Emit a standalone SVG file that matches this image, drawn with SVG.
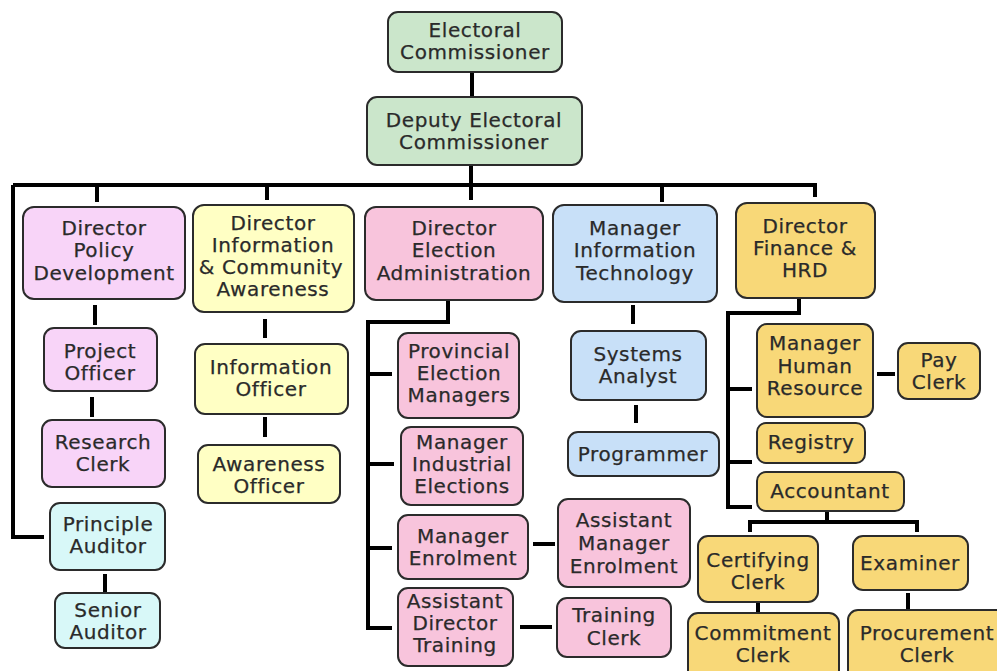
<svg xmlns="http://www.w3.org/2000/svg" width="997" height="671" viewBox="0 0 997 671">
<style>
.b{stroke:#2b2b2b;stroke-width:2}
.g{fill:#cbe6cb}.pl{fill:#f8d4f8}.yl{fill:#ffffc4}.pk{fill:#f8c4dc}.bl{fill:#c8e0f8}.gd{fill:#f8d878}.cy{fill:#d8f8f8}
text{font-family:"DejaVu Sans","Liberation Sans",sans-serif;font-size:20px;letter-spacing:0.6px;fill:#2a2a2a;stroke:#2a2a2a;stroke-width:0.25;text-anchor:middle}
.c{fill:none;stroke:#000;stroke-width:4}
</style>
<rect width="997" height="671" fill="#fff"/>
<g id="connectors" class="c">
<path d="M472 72V97"/>
<path d="M471 165V185"/>
<path d="M13 185H815V197"/>
<path d="M13 185V537H44"/>
<path d="M97 185V202"/>
<path d="M267 185V200"/>
<path d="M471 185V200"/>
<path d="M662 185V202"/>
<path d="M95 305V325"/>
<path d="M92 397V417"/>
<path d="M105 574V593"/>
<path d="M265 319V338"/>
<path d="M265 417V437"/>
<path d="M448 300V322H368V628H392"/>
<path d="M368 374H392"/>
<path d="M368 464H394"/>
<path d="M368 548H392"/>
<path d="M533 544H555"/>
<path d="M520 627H552"/>
<path d="M633 305V324"/>
<path d="M636 405V423"/>
<path d="M799 298V313H728V507H752"/>
<path d="M728 389H752"/>
<path d="M728 462H752"/>
<path d="M877 374H895"/>
<path d="M827 511V522"/>
<path d="M750 532V522H917V532"/>
<path d="M758 602V615"/>
<path d="M908 593V610"/>
</g>
<g id="ec"><rect class="b g" x="388" y="12" width="174" height="60" rx="10"/><text x="475" y="37">Electoral</text><text x="475" y="59">Commissioner</text></g>
<g id="dec"><rect class="b g" x="367" y="97" width="215" height="68" rx="10"/><text x="474" y="127">Deputy Electoral</text><text x="474" y="149">Commissioner</text></g>
<g id="dpd"><rect class="b pl" x="23" y="207" width="162" height="92" rx="11"/><text x="104" y="235">Director</text><text x="104" y="257">Policy</text><text x="104" y="280">Development</text></g>
<g id="dica"><rect class="b yl" x="193" y="205" width="161" height="107" rx="11"/><text x="273" y="230">Director</text><text x="273" y="252">Information</text><text x="271" y="274">&amp; Community</text><text x="273" y="296">Awareness</text></g>
<g id="dea"><rect class="b pk" x="365" y="207" width="178" height="93" rx="11"/><text x="454" y="235">Director</text><text x="454" y="257">Election</text><text x="454" y="280">Administration</text></g>
<g id="mit"><rect class="b bl" x="553" y="205" width="164" height="97" rx="11"/><text x="635" y="235">Manager</text><text x="635" y="257">Information</text><text x="635" y="280">Technology</text></g>
<g id="dfh"><rect class="b gd" x="736" y="203" width="139" height="95" rx="11"/><text x="805" y="233">Director</text><text x="805" y="255">Finance &amp;</text><text x="805" y="277">HRD</text></g>
<g id="po"><rect class="b pl" x="44" y="328" width="113" height="63" rx="10"/><text x="100" y="358">Project</text><text x="100" y="380">Officer</text></g>
<g id="rc"><rect class="b pl" x="42" y="420" width="123" height="67" rx="10"/><text x="103" y="449">Research</text><text x="103" y="471">Clerk</text></g>
<g id="pa"><rect class="b cy" x="50" y="503" width="115" height="67" rx="10"/><text x="108" y="531">Principle</text><text x="108" y="553">Auditor</text></g>
<g id="sa"><rect class="b cy" x="55" y="593" width="105" height="55" rx="10"/><text x="108" y="617">Senior</text><text x="108" y="639">Auditor</text></g>
<g id="io"><rect class="b yl" x="195" y="344" width="153" height="70" rx="10"/><text x="271" y="374">Information</text><text x="271" y="396">Officer</text></g>
<g id="ao"><rect class="b yl" x="198" y="445" width="142" height="58" rx="10"/><text x="269" y="471">Awareness</text><text x="269" y="493">Officer</text></g>
<g id="pem"><rect class="b pk" x="398" y="333" width="121" height="85" rx="10"/><text x="459" y="358">Provincial</text><text x="459" y="380">Election</text><text x="459" y="402">Managers</text></g>
<g id="mie"><rect class="b pk" x="401" y="427" width="122" height="78" rx="10"/><text x="462" y="449">Manager</text><text x="462" y="471">Industrial</text><text x="462" y="493">Elections</text></g>
<g id="me"><rect class="b pk" x="398" y="515" width="130" height="64" rx="10"/><text x="463" y="543">Manager</text><text x="463" y="565">Enrolment</text></g>
<g id="ame"><rect class="b pk" x="558" y="499" width="132" height="88" rx="10"/><text x="624" y="527">Assistant</text><text x="624" y="550">Manager</text><text x="624" y="573">Enrolment</text></g>
<g id="adt"><rect class="b pk" x="398" y="588" width="115" height="78" rx="10"/><text x="455" y="608">Assistant</text><text x="455" y="630">Director</text><text x="455" y="652">Training</text></g>
<g id="tc"><rect class="b pk" x="557" y="598" width="114" height="59" rx="10"/><text x="614" y="622">Training</text><text x="614" y="645">Clerk</text></g>
<g id="sya"><rect class="b bl" x="571" y="331" width="135" height="69" rx="10"/><text x="638" y="361">Systems</text><text x="638" y="383">Analyst</text></g>
<g id="prog"><rect class="b bl" x="568" y="432" width="151" height="44" rx="10"/><text x="643" y="461">Programmer</text></g>
<g id="mhr"><rect class="b gd" x="757" y="324" width="116" height="93" rx="10"/><text x="815" y="350">Manager</text><text x="815" y="373">Human</text><text x="815" y="395">Resource</text></g>
<g id="pc"><rect class="b gd" x="898" y="343" width="82" height="56" rx="10"/><text x="939" y="367">Pay</text><text x="939" y="389">Clerk</text></g>
<g id="reg"><rect class="b gd" x="757" y="423" width="108" height="40" rx="9"/><text x="811" y="449">Registry</text></g>
<g id="acc"><rect class="b gd" x="757" y="472" width="147" height="39" rx="9"/><text x="830" y="498">Accountant</text></g>
<g id="cc"><rect class="b gd" x="698" y="536" width="120" height="66" rx="10"/><text x="758" y="567">Certifying</text><text x="758" y="589">Clerk</text></g>
<g id="ex"><rect class="b gd" x="853" y="536" width="115" height="54" rx="10"/><text x="910" y="570">Examiner</text></g>
<g id="cmc"><rect class="b gd" x="688" y="613" width="151" height="70" rx="10"/><text x="763" y="640">Commitment</text><text x="763" y="662">Clerk</text></g>
<g id="prc"><rect class="b gd" x="848" y="610" width="160" height="70" rx="10"/><text x="927" y="640">Procurement</text><text x="927" y="662">Clerk</text></g>
</svg>
